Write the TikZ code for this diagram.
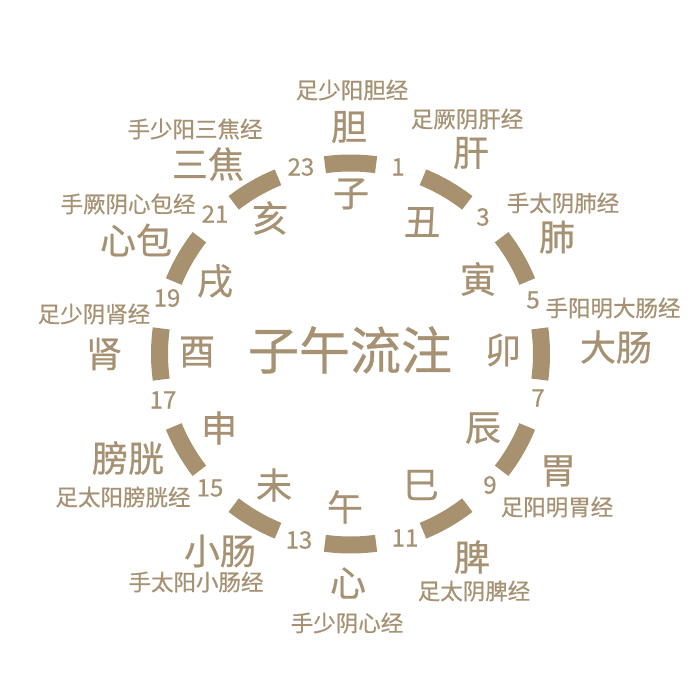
\documentclass[tikz,border=0pt]{standalone}
\usepackage{fontspec}
\setmainfont{Noto Sans CJK SC}[FakeBold=0.6]
\definecolor{tan}{HTML}{A8916F}
\definecolor{tantext}{HTML}{A69272}
\begin{document}
\begin{tikzpicture}[x=1pt,y=1pt,
  txt/.style={inner sep=0pt,text=tantext},
  meridian/.style={txt,font=\fontsize{22.5}{24}\selectfont},
  organ/.style={txt,font=\fontsize{36}{38}\selectfont},
  branch/.style={txt,font=\fontsize{36}{38}\selectfont},
  hour/.style={txt,font=\fontsize{24}{26}\selectfont},
  title/.style={txt,font=\fontsize{51}{53}\selectfont},
  seg/.style={draw=tan,line width=17pt}]
\useasboundingbox (0,0) rectangle (700,678);
\coordinate (c) at (350.5,324);
% arc segments
\foreach \a in {90,60,...,-240}{
  \draw[seg] ([shift={(\a-7.7:191pt)}]c) arc[start angle=\a-7.7,end angle=\a+7.7,radius=191pt];
}
% title
\node[title] (t) at (350,328) {子午流注};
% branches
\node[branch] (b1) at (351,484) {子};
\node[branch] (b2) at (422,456) {丑};
\node[branch] (b3) at (478,399) {寅};
\node[branch] (b4) at (503,328) {卯};
\node[branch] (b5) at (483,250) {辰};
\node[branch] (b6) at (421,193) {巳};
\node[branch] (b7) at (345,171) {午};
\node[branch] (b8) at (274,193) {未};
\node[branch] (b9) at (219,250) {申};
\node[branch] (b10) at (197,326) {酉};
\node[branch] (b11) at (215,397) {戌};
\node[branch] (b12) at (270,460) {亥};
% hours
\node[hour] (h1) at (398,511) {1};
\node[hour] (h3) at (483,461) {3};
\node[hour] (h5) at (533,378) {5};
\node[hour] (h7) at (538,280) {7};
\node[hour] (h9) at (490,193) {9};
\node[hour] (h11) at (405,140) {11};
\node[hour] (h13) at (299,138) {13};
\node[hour] (h15) at (210,190) {15};
\node[hour] (h17) at (163,278) {17};
\node[hour] (h19) at (167,380) {19};
\node[hour] (h21) at (215,464) {21};
\node[hour] (h23) at (301,511) {23};
% organs
\node[organ] (o1) at (349,551) {胆};
\node[organ] (o2) at (471,525) {肝};
\node[organ] (o3) at (557,441) {肺};
\node[organ] (o4) at (616,331) {大肠};
\node[organ] (o5) at (558,207) {胃};
\node[organ] (o6) at (472,121) {脾};
\node[organ] (o7) at (348,95) {心};
\node[organ] (o8) at (220,127) {小肠};
\node[organ] (o9) at (128,220) {膀胱};
\node[organ] (o10) at (104,324) {肾};
\node[organ] (o11) at (136,438) {心包};
\node[organ] (o12) at (208,514) {三焦};
% meridians
\node[meridian] (m1) at (352,588) {足少阳胆经};
\node[meridian] (m2) at (467,559) {足厥阴肝经};
\node[meridian] (m3) at (563,475) {手太阴肺经};
\node[meridian] (m4) at (613,370) {手阳明大肠经};
\node[meridian] (m5) at (557,171) {足阳明胃经};
\node[meridian] (m6) at (474,87) {足太阴脾经};
\node[meridian] (m7) at (347,55) {手少阴心经};
\node[meridian] (m8) at (196,96) {手太阳小肠经};
\node[meridian] (m9) at (123,181) {足太阳膀胱经};
\node[meridian] (m10) at (94,364) {足少阴肾经};
\node[meridian] (m11) at (128,474) {手厥阴心包经};
\node[meridian] (m12) at (195,549) {手少阳三焦经};
\end{tikzpicture}
\end{document}
